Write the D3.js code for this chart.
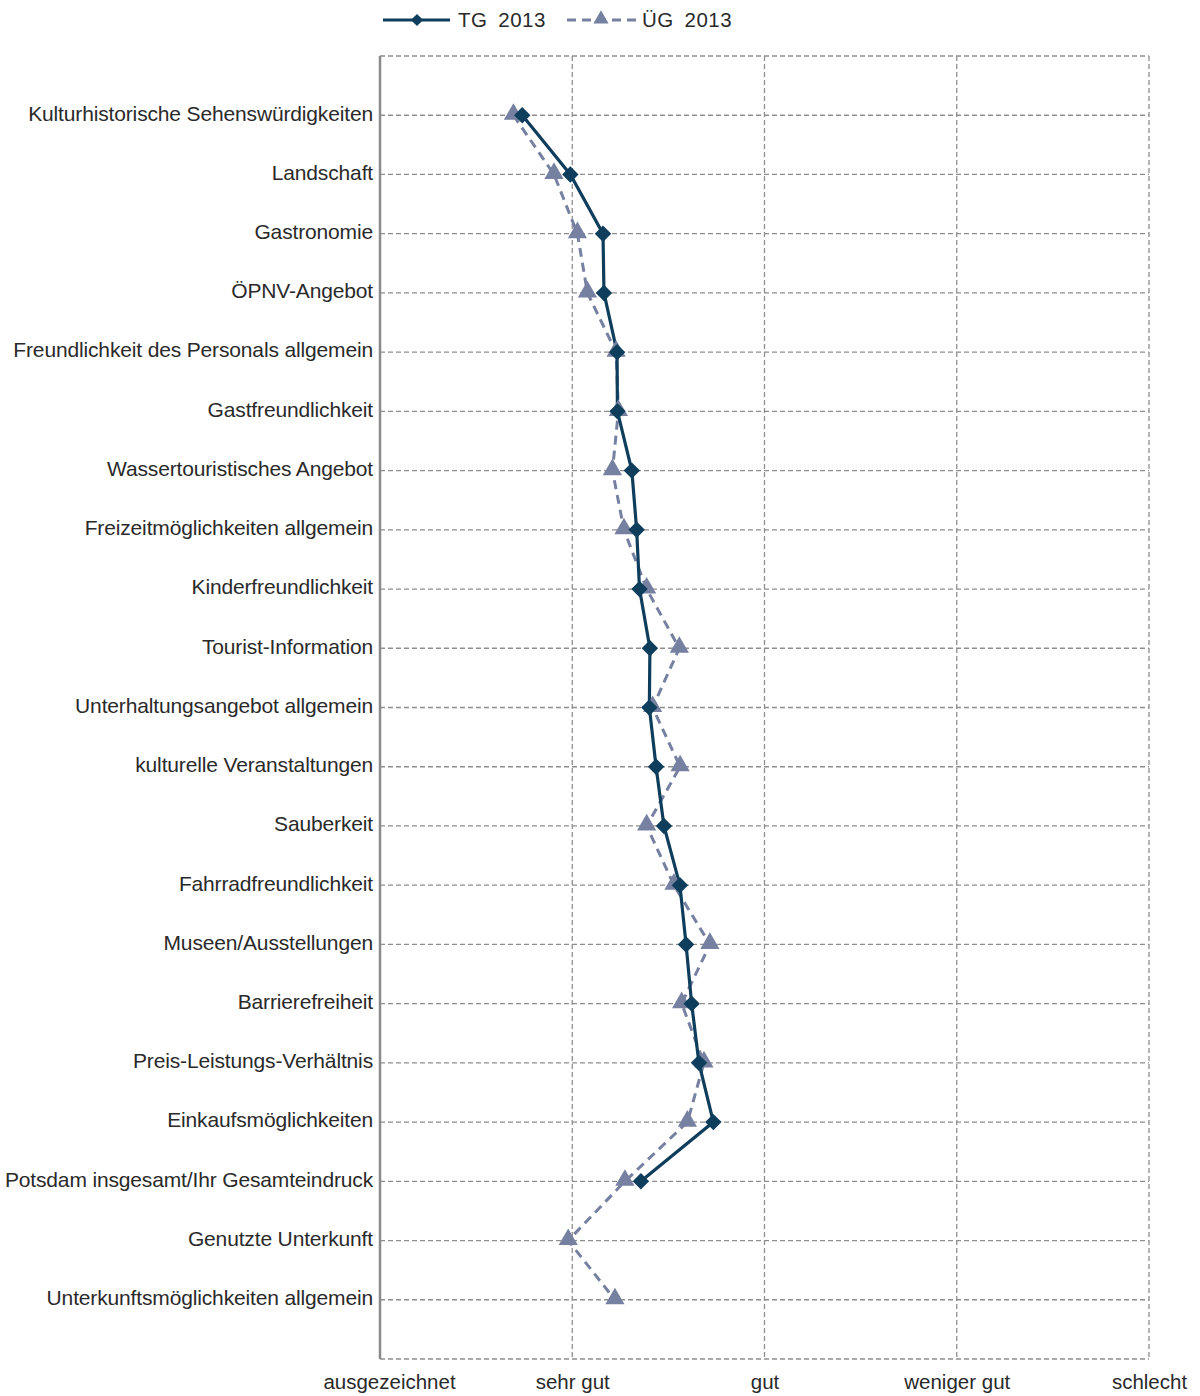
<!DOCTYPE html>
<html><head><meta charset="utf-8">
<script src="https://cdn.jsdelivr.net/npm/d3@7"></script>
<style>body{margin:0;background:#fff}svg{display:block;font-family:"Liberation Sans",Arial,sans-serif}</style>
</head><body><svg id="c" width="1200" height="1396"></svg>
<script>
const categories = ["Kulturhistorische Sehenswürdigkeiten","Landschaft","Gastronomie","ÖPNV-Angebot","Freundlichkeit des Personals allgemein","Gastfreundlichkeit","Wassertouristisches Angebot","Freizeitmöglichkeiten allgemein","Kinderfreundlichkeit","Tourist-Information","Unterhaltungsangebot allgemein","kulturelle Veranstaltungen","Sauberkeit","Fahrradfreundlichkeit","Museen/Ausstellungen","Barrierefreiheit","Preis-Leistungs-Verhältnis","Einkaufsmöglichkeiten","Potsdam insgesamt/Ihr Gesamteindruck","Genutzte Unterkunft","Unterkunftsmöglichkeiten allgemein"];
const tg2013 = [1.74,1.99,2.16,2.165,2.233,2.235,2.31,2.335,2.35,2.404,2.401,2.436,2.477,2.56,2.592,2.621,2.659,2.734,2.357,null,null];
const ug2013 = [1.694,1.905,2.027,2.079,2.228,2.24,2.209,2.269,2.387,2.557,2.418,2.561,2.387,2.529,2.716,2.569,2.685,2.599,2.274,1.979,2.222];
const tickValues = [1,2,3,4,5];
const tickLabels = ["ausgezeichnet","sehr gut","gut","weniger gut","schlecht"];
const seriesNames = ["TG 2013","ÜG 2013"];

const svg = d3.select("#c");
const L=380,R=1149,T=56,B=1359;
const x = d3.scaleLinear().domain([1,5]).range([L,R]);
const y = d3.scalePoint().domain(categories).range([T,B]).padding(1);
const gridCol="#8e8e8e", tgCol="#0f3d5c", ugCol="#7680a0", txtCol="#2a2a2a";

const g = svg.append("g");
g.selectAll("line.h").data(categories).join("line")
 .attr("x1",L).attr("x2",R).attr("y1",d=>y(d)).attr("y2",d=>y(d))
 .attr("stroke",gridCol).attr("stroke-width",1.3).attr("stroke-dasharray","5,3");
[T,B].forEach(v=>g.append("line").attr("x1",L).attr("x2",R).attr("y1",v).attr("y2",v)
 .attr("stroke",gridCol).attr("stroke-width",1.3).attr("stroke-dasharray","5,3"));
g.selectAll("line.v").data(tickValues.slice(1)).join("line")
 .attr("x1",d=>x(d)).attr("x2",d=>x(d)).attr("y1",T).attr("y2",B)
 .attr("stroke",gridCol).attr("stroke-width",1.3).attr("stroke-dasharray","5,3");
g.append("line").attr("x1",L).attr("x2",L).attr("y1",T).attr("y2",B).attr("stroke","#8a8a8a").attr("stroke-width",2.5);

svg.append("g").selectAll("text").data(categories).join("text")
 .attr("x",373).attr("y",d=>y(d)-2).attr("dy","0.35em").attr("text-anchor","end")
 .attr("font-size",21).attr("fill",txtCol).attr("letter-spacing","-0.15")
 .text(d=>d);

const xAxis = d3.axisBottom(x).tickValues(tickValues).tickFormat((d,i)=>tickLabels[i]).tickSize(0).tickPadding(15);
const ax = svg.append("g").attr("transform",`translate(0,${B})`).call(xAxis);
ax.select(".domain").remove();
ax.selectAll("text").attr("font-size",20.5).attr("fill",txtCol).attr("font-family","Liberation Sans, Arial, sans-serif");
ax.selectAll(".tick").filter(d=>d===1).select("text").attr("dx",9);

const tgPts = categories.map((c,i)=>({c,v:tg2013[i]})).filter(d=>d.v!=null);
const ugPts = categories.map((c,i)=>({c,v:ug2013[i]})).filter(d=>d.v!=null);
const line = d3.line().x(d=>x(d.v)).y(d=>y(d.c));
svg.append("path").datum(ugPts).attr("d",line).attr("fill","none").attr("stroke",ugCol).attr("stroke-width",3).attr("stroke-dasharray","9,6");
svg.append("path").datum(tgPts).attr("d",line).attr("fill","none").attr("stroke",tgCol).attr("stroke-width",3.2);

const tri = d3.symbol().type(d3.symbolTriangle).size(160);
const dia = d3.symbol().type(d3.symbolSquare).size(135);
svg.append("g").selectAll("path").data(ugPts).join("path")
 .attr("d",tri).attr("fill",ugCol).attr("transform",d=>`translate(${x(d.v)},${y(d.c)-1})`);
svg.append("g").selectAll("path").data(tgPts).join("path")
 .attr("d",dia).attr("fill",tgCol).attr("transform",d=>`translate(${x(d.v)},${y(d.c)}) rotate(45)`);

const lg = svg.append("g");
lg.append("line").attr("x1",383).attr("x2",450).attr("y1",20).attr("y2",20).attr("stroke",tgCol).attr("stroke-width",3.2);
lg.append("path").attr("d",d3.symbol().type(d3.symbolSquare).size(75)).attr("fill",tgCol).attr("transform","translate(417,20) rotate(45)");
lg.append("text").attr("x",458).attr("y",20).attr("dy","0.35em").attr("font-size",20.5).attr("fill",txtCol).attr("letter-spacing","0.5").text(seriesNames[0].replace(" ","\u00a0\u2009"));
lg.append("line").attr("x1",567).attr("x2",637).attr("y1",20).attr("y2",20).attr("stroke",ugCol).attr("stroke-width",3).attr("stroke-dasharray","9,6");
lg.append("path").attr("d",d3.symbol().type(d3.symbolTriangle).size(100)).attr("fill",ugCol).attr("transform","translate(601,19)");
lg.append("text").attr("x",642).attr("y",20).attr("dy","0.35em").attr("font-size",20.5).attr("fill",txtCol).attr("letter-spacing","0.5").text(seriesNames[1].replace(" ","\u00a0\u2009"));
</script></body></html>
